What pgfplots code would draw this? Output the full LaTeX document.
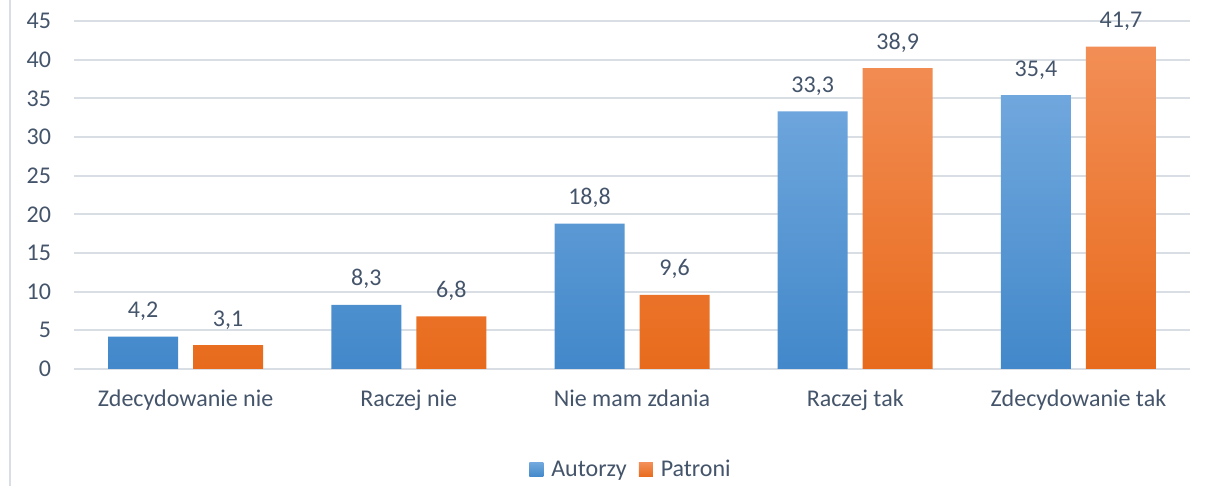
\documentclass[border=0pt]{standalone}
\usepackage{fontspec}
\setmainfont{Carlito}
\usepackage{pgfplots}
\pgfplotsset{compat=1.18}
\definecolor{txt}{RGB}{68,84,106}
\definecolor{grd}{RGB}{217,222,228}
\definecolor{btop}{RGB}{112,167,221}
\definecolor{bbot}{RGB}{66,136,202}
\definecolor{otop}{RGB}{242,142,86}
\definecolor{obot}{RGB}{232,107,28}
\begin{document}
\begin{tikzpicture}
\path[use as bounding box] (0,0) rectangle (604pt,243pt);
\draw[grd, line width=1pt] (5pt,0) -- (5pt,243pt);
\begin{axis}[
  at={(37pt,58.5pt)}, anchor=south west,
  scale only axis, width=558pt, height=174pt,
  ybar=7.5pt, bar width=35pt,
  xmin=-0.5, xmax=4.5, ymin=0, ymax=45,
  ytick={0,5,...,45},
  xtick={0,1,2,3,4},
  xticklabels={Zdecydowanie nie, Raczej nie, Nie mam zdania, Raczej tak, Zdecydowanie tak},
  axis line style={draw=none},
  major tick length=0pt,
  ymajorgrids, grid style={grd, line width=1pt},
  tick label style={text=txt, font=\fontsize{12pt}{14pt}\selectfont},
  yticklabel style={xshift=-8pt},
  xticklabel style={yshift=-7pt},
  /pgf/number format/assume math mode=true,
  nodes near coords,
  nodes near coords style={text=txt, font=\fontsize{12pt}{14pt}\selectfont, anchor=base, yshift=9.5pt,
    /pgf/number format/.cd, fixed, fixed zerofill, precision=1, use comma, assume math mode=true},
  legend style={at={(0.5,-0.29)}, anchor=center, draw=none, legend columns=2,
    font=\fontsize{12pt}{14pt}\selectfont, text=txt,
    /tikz/every even column/.append style={column sep=4pt}},
  legend image code/.code={\path[#1] (0pt,-3.5pt) rectangle (7pt,3.5pt); \path (0pt,0pt) -- (9pt,0pt);},
]
\addplot[draw=none, top color=btop, bottom color=bbot] coordinates {(0,4.2) (1,8.3) (2,18.8) (3,33.3) (4,35.4)};
\addplot[draw=none, top color=otop, bottom color=obot] coordinates {(0,3.1) (1,6.8) (2,9.6) (3,38.9) (4,41.7)};
\legend{Autorzy, Patroni}
\end{axis}
\end{tikzpicture}
\end{document}
